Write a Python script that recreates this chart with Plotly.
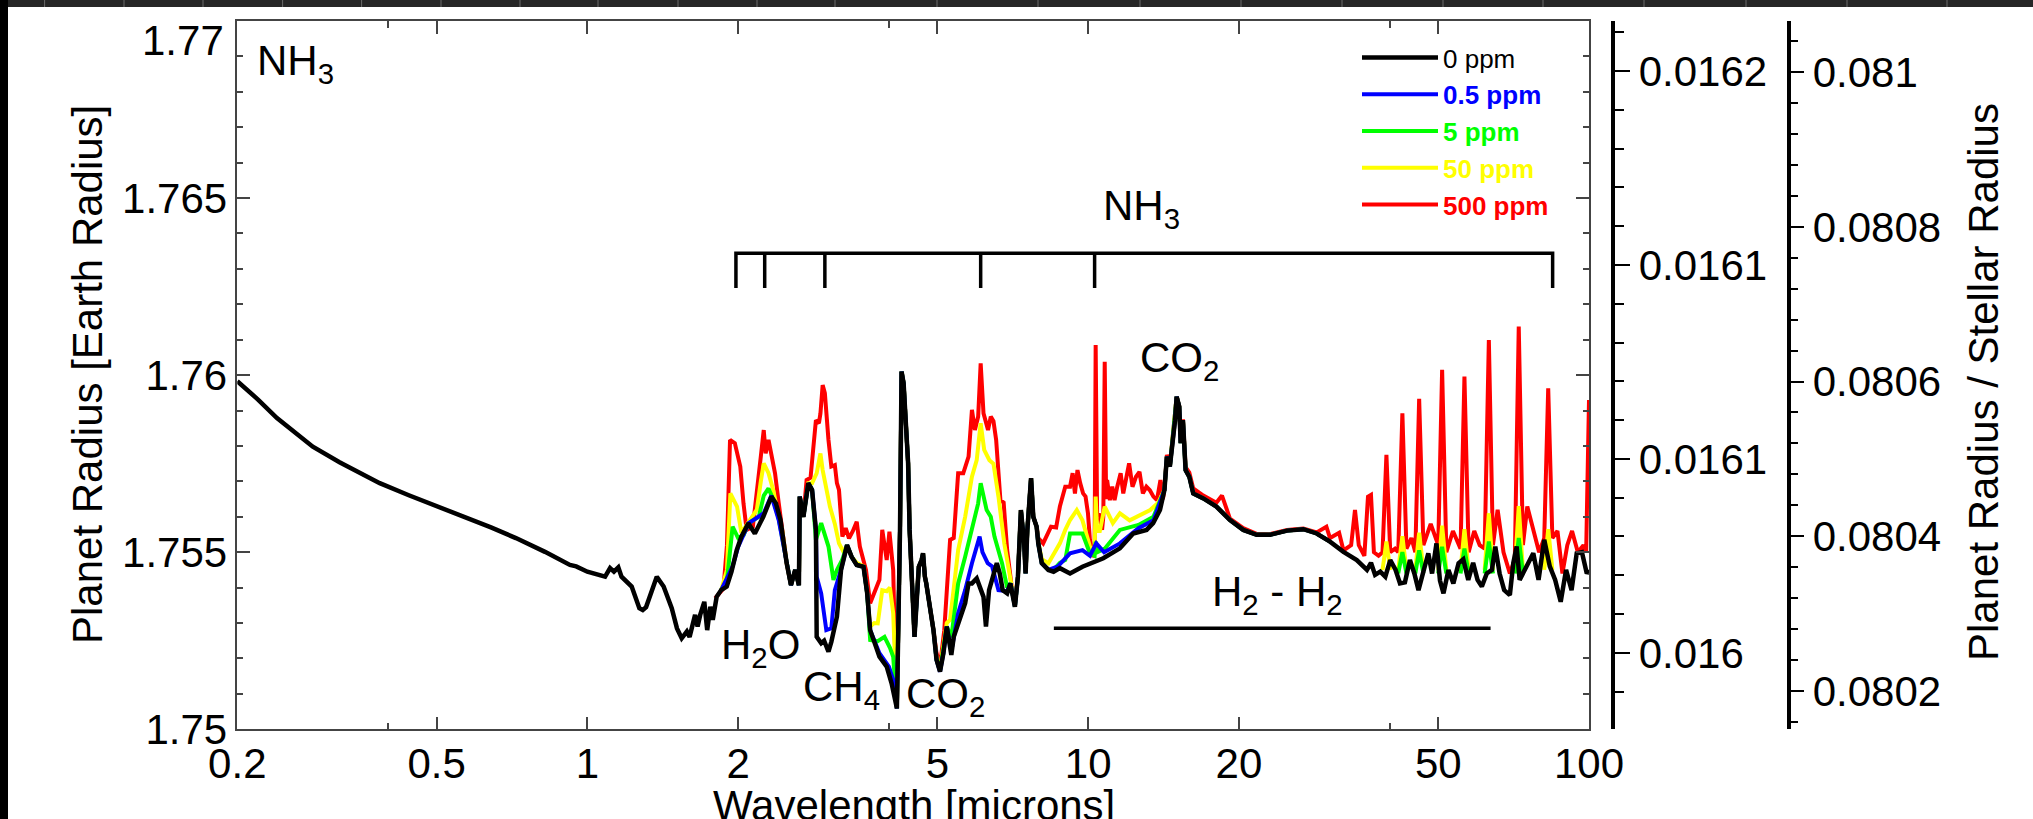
import math
import plotly.graph_objects as go

W, H = 2033, 819
FONT = "Liberation Sans, Arial, Helvetica, sans-serif"

# ---------------- data (wavelength in microns, radius in Earth radii) ----------------
wl_0ppm = [
    0.200, 0.220, 0.240, 0.260, 0.283, 0.320, 0.385, 0.440, 0.497, 0.560,
    0.642, 0.720, 0.789, 0.823, 0.923, 0.950,
    1.000, 1.085, 1.110, 1.130, 1.153, 1.170, 1.226, 1.270, 1.290, 1.310,
    1.376, 1.420, 1.474, 1.510, 1.543, 1.580, 1.600, 1.641, 1.660, 1.680,
    1.712, 1.735, 1.760, 1.780, 1.812, 1.850, 1.898, 1.940, 1.987, 2.030,
    2.096, 2.160, 2.245, 2.330, 2.380, 2.430, 2.500, 2.550, 2.600, 2.645,
    2.655, 2.700, 2.762, 2.810, 2.860, 2.870, 2.930, 2.970, 3.030, 3.070,
    3.150, 3.210, 3.300, 3.370, 3.450, 3.560, 3.620, 3.670, 3.740, 3.830,
    3.960, 4.050, 4.150, 4.210, 4.240, 4.280, 4.370, 4.400, 4.500, 4.530,
    4.590, 4.650, 4.680, 4.720, 4.750, 4.910, 4.980, 5.060, 5.140, 5.220,
    5.330, 5.390, 5.500, 5.680, 5.770, 5.860, 5.990, 6.100, 6.180, 6.250,
    6.340, 6.570, 6.660, 6.750, 6.890, 6.990, 7.140, 7.240, 7.340, 7.450,
    7.500, 7.560, 7.690, 7.770, 7.890, 7.950, 8.080, 8.330, 8.530, 8.780,
    9.200, 9.740, 10.72, 11.57, 12.30, 13.08, 13.48, 13.91, 14.20, 14.36,
    14.56, 14.91, 15.02, 15.20, 15.30, 15.46, 15.65, 15.92, 16.21, 16.98,
    18.03, 19.19, 20.40, 21.69, 23.07, 24.96, 26.89, 28.59, 30.40, 32.34,
    34.38, 36.03, 36.70, 37.40, 38.30, 39.20, 40.10, 41.10, 41.94, 42.90,
    43.90, 44.80, 45.66, 46.80, 47.77, 48.60, 49.60, 50.40, 51.22, 52.40,
    53.60, 54.90, 56.10, 57.40, 58.70, 59.90, 61.10, 62.50, 64.00, 65.00,
    66.30, 67.70, 69.50, 70.60, 71.70, 72.70, 74.90, 77.40, 79.30, 81.40,
    83.50, 85.60, 87.80, 90.00, 92.30, 94.50, 96.80, 99.00, 100.0,
]
r_0ppm = [
    1.75983, 1.75931, 1.75879, 1.75838, 1.75798, 1.75754, 1.75695, 1.75661, 1.75632, 1.75602,
    1.75570, 1.75540, 1.75514, 1.75501, 1.75464, 1.75460,
    1.75445, 1.75431, 1.75455, 1.75445, 1.75457, 1.75431, 1.75403, 1.75342, 1.75337, 1.75345,
    1.75431, 1.75403, 1.75342, 1.75285, 1.75257, 1.75276, 1.75261, 1.75323, 1.75290, 1.75323,
    1.75360, 1.75280, 1.75346, 1.75309, 1.75374, 1.75393, 1.75403, 1.75445, 1.75506, 1.75544,
    1.75582, 1.75553, 1.75600, 1.75657, 1.75638, 1.75591, 1.75469, 1.75407, 1.75450, 1.75407,
    1.75657, 1.75600, 1.75695, 1.75676, 1.75563, 1.75261, 1.75243, 1.75250, 1.75219, 1.75247,
    1.75318, 1.75450, 1.75520, 1.75487, 1.75464, 1.75459, 1.75384, 1.75280, 1.75247, 1.75205,
    1.75177, 1.75130, 1.75059, 1.75563, 1.76010, 1.75977, 1.75751, 1.75563, 1.75261, 1.75337,
    1.75459, 1.75478, 1.75497, 1.75431, 1.75412, 1.75280, 1.75196, 1.75163, 1.75215, 1.75290,
    1.75210, 1.75261, 1.75299, 1.75356, 1.75412, 1.75412, 1.75426, 1.75393, 1.75374, 1.75290,
    1.75393, 1.75469, 1.75440, 1.75393, 1.75384, 1.75412, 1.75346, 1.75431, 1.75619, 1.75525,
    1.75440, 1.75563, 1.75709, 1.75600, 1.75572, 1.75525, 1.75469, 1.75450, 1.75445, 1.75455,
    1.75440, 1.75459, 1.75483, 1.75511, 1.75553, 1.75563, 1.75582, 1.75619, 1.75676, 1.75770,
    1.75742, 1.75873, 1.75939, 1.75911, 1.75808, 1.75873, 1.75732, 1.75713, 1.75666, 1.75652,
    1.75629, 1.75591, 1.75563, 1.75549, 1.75549, 1.75561, 1.75565, 1.75553, 1.75530, 1.75501,
    1.75478, 1.75450, 1.75470, 1.75436, 1.75445, 1.75431, 1.75478, 1.75450, 1.75412, 1.75415,
    1.75478, 1.75440, 1.75393, 1.75450, 1.75497, 1.75440, 1.75525, 1.75420, 1.75384, 1.75450,
    1.75412, 1.75469, 1.75480, 1.75422, 1.75470, 1.75422, 1.75403, 1.75440, 1.75450, 1.75516,
    1.75440, 1.75393, 1.75379, 1.75469, 1.75516, 1.75422, 1.75460, 1.75497, 1.75422, 1.75535,
    1.75460, 1.75422, 1.75360, 1.75450, 1.75393, 1.75497, 1.75500, 1.75440, 1.75450,
]

wl_500ppm = [
    1.800, 1.870, 1.900, 1.927, 1.970, 2.020, 2.050, 2.080, 2.140, 2.180,
    2.220, 2.250, 2.270, 2.300, 2.330, 2.370, 2.410, 2.450, 2.500, 2.550,
    2.600, 2.645, 2.655, 2.700, 2.740, 2.790, 2.860, 2.900, 2.920, 2.950,
    2.980, 3.030, 3.070, 3.120, 3.150, 3.180, 3.230, 3.280, 3.330, 3.390,
    3.450, 3.500, 3.600, 3.670, 3.740, 3.830, 3.880, 3.960, 4.010, 4.080,
    4.120, 4.150, 4.210, 4.240, 4.280, 4.370, 4.400, 4.500, 4.530, 4.590,
    4.650, 4.680, 4.720, 4.750, 4.910, 4.980, 5.060, 5.160, 5.300, 5.390,
    5.500, 5.630, 5.770, 5.860, 5.940, 6.030, 6.100, 6.180, 6.220, 6.310,
    6.390, 6.470, 6.550, 6.680, 6.780, 6.890, 7.040, 7.140, 7.240, 7.340,
    7.450, 7.500, 7.560, 7.690, 7.770, 7.890, 7.950, 8.130, 8.430, 8.630,
    8.780, 9.000, 9.200, 9.310, 9.410, 9.520, 9.640, 9.770, 9.880, 9.990,
    10.08, 10.20, 10.30, 10.35, 10.42, 10.50, 10.66, 10.72, 10.79, 10.86,
    10.91, 11.05, 11.17, 11.29, 11.43, 11.61, 11.75, 11.88, 12.07, 12.26,
    12.46, 12.66, 12.86, 13.07, 13.28, 13.50, 13.72, 13.94, 14.10, 14.20,
    14.36, 14.56, 14.91, 15.02, 15.20, 15.30, 15.46, 15.65, 15.92, 16.21,
    16.98, 18.03, 18.50, 19.19, 20.40, 21.69, 23.07, 24.96, 26.89, 28.59,
    29.90, 30.40, 31.70, 32.34, 33.50, 34.10, 34.70, 35.60, 36.20, 36.70,
    37.20, 38.00, 38.70, 39.40, 40.10, 41.00, 41.60, 42.40, 43.20, 44.20,
    45.00, 45.80, 46.70, 48.30, 50.00, 50.90, 51.90, 53.50, 55.40, 56.40,
    57.50, 59.00, 60.50, 61.90, 63.10, 64.30, 65.70, 67.50, 69.50, 71.10,
    72.40, 73.80, 75.30, 77.50, 79.50, 81.40, 82.90, 84.50, 86.50, 88.50,
    90.50, 92.50, 95.00, 97.50, 98.70, 100.0,
]
r_500ppm = [
    1.75370, 1.75398, 1.75520, 1.75817, 1.75808, 1.75742, 1.75638, 1.75563, 1.75572, 1.75685,
    1.75770, 1.75845, 1.75779, 1.75817, 1.75770, 1.75723, 1.75640, 1.75560, 1.75469, 1.75407,
    1.75450, 1.75407, 1.75657, 1.75600, 1.75704, 1.75710, 1.75873, 1.75864, 1.75892, 1.75972,
    1.75949, 1.75817, 1.75742, 1.75746, 1.75695, 1.75676, 1.75544, 1.75568, 1.75539, 1.75560,
    1.75586, 1.75516, 1.75450, 1.75356, 1.75384, 1.75422, 1.75563, 1.75478, 1.75558, 1.75450,
    1.75200, 1.75059, 1.75563, 1.76010, 1.75977, 1.75751, 1.75563, 1.75261, 1.75337, 1.75459,
    1.75478, 1.75497, 1.75431, 1.75412, 1.75280, 1.75215, 1.75180, 1.75280, 1.75535, 1.75540,
    1.75723, 1.75723, 1.75770, 1.75902, 1.75845, 1.75883, 1.76033, 1.75892, 1.75878, 1.75845,
    1.75883, 1.75870, 1.75817, 1.75647, 1.75640, 1.75506, 1.75400, 1.75360, 1.75431, 1.75619,
    1.75525, 1.75440, 1.75563, 1.75709, 1.75600, 1.75572, 1.75540, 1.75525, 1.75572, 1.75570,
    1.75629, 1.75685, 1.75685, 1.75723, 1.75666, 1.75732, 1.75695, 1.75666, 1.75657, 1.75610,
    1.75535, 1.75487, 1.75500, 1.76085, 1.75600, 1.75610, 1.75563, 1.75600, 1.76038, 1.75650,
    1.75704, 1.75647, 1.75685, 1.75647, 1.75685, 1.75723, 1.75666, 1.75704, 1.75751, 1.75685,
    1.75713, 1.75727, 1.75666, 1.75685, 1.75675, 1.75657, 1.75647, 1.75704, 1.75650, 1.75680,
    1.75775, 1.75745, 1.75875, 1.75940, 1.75912, 1.75810, 1.75875, 1.75740, 1.75725, 1.75680,
    1.75660, 1.75640, 1.75660, 1.75595, 1.75568, 1.75552, 1.75551, 1.75563, 1.75567, 1.75556,
    1.75572, 1.75540, 1.75555, 1.75505, 1.75520, 1.75619, 1.75520, 1.75490, 1.75657, 1.75662,
    1.75500, 1.75490, 1.75500, 1.75775, 1.75500, 1.75510, 1.75500, 1.75892, 1.75510, 1.75540,
    1.75500, 1.75933, 1.75520, 1.75580, 1.75520, 1.76015, 1.75500, 1.75560, 1.75510, 1.75996,
    1.75500, 1.75560, 1.75520, 1.75510, 1.76099, 1.75520, 1.75620, 1.75500, 1.75440, 1.75480,
    1.76137, 1.75520, 1.75629, 1.75560, 1.75500, 1.75540, 1.75963, 1.75540, 1.75560, 1.75440,
    1.75520, 1.75560, 1.75500, 1.75520, 1.75500, 1.75930,
]

# 50 ppm: continuous part up to 30 microns, then isolated line cores inside the red lines
wl_50ppm = [
    1.850, 1.900, 1.930, 1.990, 2.030, 2.100, 2.180, 2.220, 2.250, 2.300,
    2.350, 2.410, 2.450, 2.500, 2.550, 2.600, 2.645, 2.655, 2.700, 2.762,
    2.810, 2.870, 2.920, 2.950, 3.000, 3.050, 3.120, 3.180, 3.250, 3.300,
    3.370, 3.450, 3.560, 3.620, 3.670, 3.740, 3.800, 3.880, 3.960, 4.020,
    4.080, 4.120, 4.150, 4.210, 4.240, 4.280, 4.370, 4.400, 4.500, 4.530,
    4.590, 4.650, 4.680, 4.720, 4.750, 4.910, 4.980, 5.060, 5.140, 5.220,
    5.300, 5.500, 5.680, 5.860, 5.990, 6.100, 6.200, 6.350, 6.470, 6.620,
    6.800, 7.000, 7.140, 7.240, 7.340, 7.450, 7.500, 7.560, 7.690, 7.770,
    7.890, 7.950, 8.080, 8.330, 8.780, 9.000, 9.200, 9.490, 9.740, 10.08,
    10.30, 10.35, 10.42, 10.55, 10.79, 11.20, 11.57, 12.10, 12.90, 13.30,
    13.80, 14.20, 14.36, 14.56, 14.91, 15.02, 15.20, 15.30, 15.46, 15.65,
    15.92, 16.21, 16.98, 18.03, 19.19, 20.40, 21.69, 23.07, 24.96, 26.89,
    28.59, 30.40,
    None, 38.70, 39.40, 40.10, None, 41.60, 42.40, 43.20, None, 45.00, 45.80, 46.70,
    None, 50.00, 50.90, 51.90, None, 55.40, 56.40, 57.50, None, 61.90, 63.10, 64.30,
    None, 71.10, 72.40, 73.80, None, 81.40, 82.90, 84.50,
]
r_50ppm = [
    1.75393, 1.75450, 1.75666, 1.75629, 1.75555, 1.75585, 1.75620, 1.75700, 1.75751, 1.75723,
    1.75676, 1.75600, 1.75560, 1.75469, 1.75407, 1.75450, 1.75407, 1.75657, 1.75600, 1.75695,
    1.75695, 1.75723, 1.75779, 1.75732, 1.75676, 1.75629, 1.75580, 1.75525, 1.75500, 1.75520,
    1.75487, 1.75470, 1.75460, 1.75384, 1.75290, 1.75300, 1.75299, 1.75393, 1.75390, 1.75400,
    1.75328, 1.75150, 1.75059, 1.75563, 1.76010, 1.75977, 1.75751, 1.75563, 1.75261, 1.75337,
    1.75459, 1.75478, 1.75497, 1.75431, 1.75412, 1.75280, 1.75200, 1.75170, 1.75230, 1.75300,
    1.75309, 1.75506, 1.75600, 1.75713, 1.75760, 1.75864, 1.75789, 1.75760, 1.75750, 1.75657,
    1.75525, 1.75420, 1.75350, 1.75431, 1.75619, 1.75525, 1.75440, 1.75563, 1.75709, 1.75600,
    1.75572, 1.75530, 1.75480, 1.75469, 1.75525, 1.75563, 1.75591, 1.75619, 1.75590, 1.75516,
    1.75500, 1.75657, 1.75560, 1.75560, 1.75629, 1.75582, 1.75610, 1.75590, 1.75610, 1.75619,
    1.75640, 1.75676, 1.75770, 1.75742, 1.75873, 1.75939, 1.75911, 1.75808, 1.75873, 1.75732,
    1.75713, 1.75666, 1.75652, 1.75629, 1.75591, 1.75563, 1.75549, 1.75549, 1.75561, 1.75565,
    1.75553, 1.75530,
    None, 1.75450, 1.75530, 1.75450, None, 1.75450, 1.75545, 1.75450, None, 1.75450, 1.75555, 1.75450,
    None, 1.75450, 1.75575, 1.75450, None, 1.75450, 1.75565, 1.75450, None, 1.75450, 1.75610, 1.75450,
    None, 1.75450, 1.75630, 1.75450, None, 1.75450, 1.75565, 1.75450,
]

wl_5ppm = [
    1.850, 1.900, 1.950, 2.000, 2.050, 2.100, 2.200, 2.250, 2.300, 2.350,
    2.410, 2.450, 2.500, 2.550, 2.600, 2.645, 2.655, 2.700, 2.762, 2.810,
    2.860, 2.930, 3.030, 3.100, 3.150, 3.230, 3.300, 3.370, 3.450, 3.560,
    3.620, 3.670, 3.800, 3.920, 4.020, 4.080, 4.150, 4.210, 4.240, 4.280,
    4.370, 4.400, 4.500, 4.530, 4.590, 4.650, 4.680, 4.720, 4.750, 4.910,
    4.980, 5.060, 5.140, 5.220, 5.330, 5.500, 5.680, 5.860, 6.030, 6.100,
    6.270, 6.390, 6.500, 6.730, 6.890, 7.000, 7.140, 7.240, 7.340, 7.450,
    7.500, 7.560, 7.690, 7.770, 7.890, 7.950, 8.080, 8.330, 8.530, 8.780,
    9.000, 9.200, 9.740, 10.08, 10.30, 10.35, 10.42, 10.79, 11.57, 12.60,
    13.50, 14.20, 14.36, 14.56, 14.91, 15.02, 15.20, 15.30, 15.46, 15.65,
    15.92, 16.21, 16.98, 18.03, 19.19, 20.40, 21.69, 23.07, 24.96, 26.89,
    28.59, 30.40,
    None, 41.60, 42.40, 43.20, None, 45.00, 45.80, 46.70, None, 50.00, 50.90, 51.90,
    None, 55.40, 56.40, 57.50, None, 61.90, 63.10, 64.30, None, 71.10, 72.40, 73.80,
]
r_5ppm = [
    1.75393, 1.75420, 1.75572, 1.75540, 1.75548, 1.75582, 1.75600, 1.75660, 1.75680, 1.75650,
    1.75595, 1.75540, 1.75469, 1.75407, 1.75450, 1.75407, 1.75657, 1.75600, 1.75695, 1.75676,
    1.75535, 1.75582, 1.75516, 1.75422, 1.75450, 1.75480, 1.75520, 1.75487, 1.75464, 1.75459,
    1.75384, 1.75252, 1.75249, 1.75261, 1.75230, 1.75205, 1.75059, 1.75563, 1.76010, 1.75977,
    1.75751, 1.75563, 1.75261, 1.75337, 1.75459, 1.75478, 1.75497, 1.75431, 1.75412, 1.75280,
    1.75196, 1.75165, 1.75220, 1.75290, 1.75260, 1.75412, 1.75487, 1.75563, 1.75638, 1.75695,
    1.75619, 1.75600, 1.75544, 1.75469, 1.75400, 1.75412, 1.75346, 1.75431, 1.75619, 1.75525,
    1.75440, 1.75563, 1.75709, 1.75600, 1.75572, 1.75525, 1.75469, 1.75450, 1.75450, 1.75470,
    1.75478, 1.75553, 1.75553, 1.75497, 1.75490, 1.75530, 1.75500, 1.75510, 1.75563, 1.75577,
    1.75600, 1.75676, 1.75770, 1.75742, 1.75873, 1.75939, 1.75911, 1.75808, 1.75873, 1.75732,
    1.75713, 1.75666, 1.75652, 1.75629, 1.75591, 1.75563, 1.75549, 1.75549, 1.75561, 1.75565,
    1.75553, 1.75530,
    None, 1.75440, 1.75500, 1.75440, None, 1.75440, 1.75505, 1.75440, None, 1.75440, 1.75515, 1.75440,
    None, 1.75440, 1.75510, 1.75440, None, 1.75440, 1.75530, 1.75440, None, 1.75440, 1.75540, 1.75440,
]

wl_05ppm = [
    1.850, 1.950, 2.000, 2.100, 2.250, 2.330, 2.410, 2.500, 2.550, 2.600,
    2.645, 2.655, 2.700, 2.762, 2.810, 2.860, 2.870, 2.930, 3.000, 3.070,
    3.120, 3.210, 3.300, 3.370, 3.450, 3.560, 3.620, 3.670, 3.740, 3.830,
    4.000, 4.080, 4.150, 4.210, 4.240, 4.280, 4.370, 4.400, 4.500, 4.530,
    4.590, 4.650, 4.680, 4.720, 4.750, 4.910, 4.980, 5.060, 5.140, 5.220,
    5.330, 5.500, 5.680, 5.860, 6.070, 6.150, 6.300, 6.430, 6.620, 6.890,
    7.000, 7.140, 7.240, 7.340, 7.450, 7.500, 7.560, 7.690, 7.770, 7.890,
    7.950, 8.080, 8.330, 8.700, 9.200, 9.740, 10.08, 10.38, 10.76, 11.57,
    12.60, 13.50, 14.20, 14.36, 14.56, 14.91, 15.02, 15.20, 15.30, 15.46,
    15.65, 15.92, 16.21, 16.98, 18.03, 19.19, 20.40, 21.69, 23.07, 24.96,
    26.89, 28.59, 30.40,
]
r_05ppm = [
    1.75393, 1.75460, 1.75515, 1.75582, 1.75610, 1.75660, 1.75591, 1.75469, 1.75407, 1.75450,
    1.75407, 1.75657, 1.75600, 1.75695, 1.75676, 1.75563, 1.75431, 1.75384, 1.75280, 1.75285,
    1.75393, 1.75450, 1.75520, 1.75487, 1.75464, 1.75459, 1.75384, 1.75280, 1.75250, 1.75215,
    1.75177, 1.75140, 1.75059, 1.75563, 1.76010, 1.75977, 1.75751, 1.75563, 1.75261, 1.75337,
    1.75459, 1.75478, 1.75497, 1.75431, 1.75412, 1.75280, 1.75196, 1.75163, 1.75215, 1.75290,
    1.75220, 1.75328, 1.75393, 1.75469, 1.75544, 1.75500, 1.75469, 1.75460, 1.75393, 1.75390,
    1.75412, 1.75346, 1.75431, 1.75619, 1.75525, 1.75440, 1.75563, 1.75709, 1.75600, 1.75572,
    1.75525, 1.75469, 1.75450, 1.75460, 1.75497, 1.75506, 1.75490, 1.75525, 1.75500, 1.75525,
    1.75568, 1.75590, 1.75676, 1.75770, 1.75742, 1.75873, 1.75939, 1.75911, 1.75808, 1.75873,
    1.75732, 1.75713, 1.75666, 1.75652, 1.75629, 1.75591, 1.75563, 1.75549, 1.75549, 1.75561,
    1.75565, 1.75553, 1.75530,
]

series_names = ["500 ppm", "50 ppm", "5 ppm", "0.5 ppm", "0 ppm"]
series_colors = ["#ff0000", "#ffff00", "#00ff00", "#0000ff", "#000000"]

# band markers
nh3_band_wl = [1.98, 2.26, 2.98, 6.1, 10.3, 84.6]
nh3_bracket_level = 1.76344
nh3_tick_bottom = 1.76246
h2h2_range = [8.54, 63.6]
h2h2_level = 1.75285

# axes
x_range = [0.2, 100]
x_tick_vals = [0.2, 0.5, 1, 2, 5, 10, 20, 50, 100]
x_tick_text = ["0.2", "0.5", "1", "2", "5", "10", "20", "50", "100"]
x_minor_vals = [0.4, 4, 40]
y_range = [1.75, 1.77]
y_tick_vals = [1.75, 1.755, 1.76, 1.765]
y_tick_text = ["1.75", "1.755", "1.76", "1.765"]
stellar_radius_1 = 109.51   # Earth radii, inner right axis
stellar_radius_2 = 21.834   # Earth radii, outer right axis
ratio1_tick_vals = [0.016, 0.01605, 0.0161, 0.01615]
ratio1_tick_text = ["0.016", "0.0161", "0.0161", "0.0162"]
ratio2_tick_vals = [0.0802, 0.0804, 0.0806, 0.0808, 0.081]
ratio2_tick_text = ["0.0802", "0.0804", "0.0806", "0.0808", "0.081"]

# ---------------- layout helpers (pixel -> paper) ----------------
def px(x):
    return x / W


def py(y):
    return 1 - y / H


X0, X1 = 237.3, 1589.0
Y0, Y1 = 21.0, 729.3

fig = go.Figure()

all_wl = [wl_500ppm, wl_50ppm, wl_5ppm, wl_05ppm, wl_0ppm]
all_r = [r_500ppm, r_50ppm, r_5ppm, r_05ppm, r_0ppm]
for name, color, wl, r in zip(series_names, series_colors, all_wl, all_r):
    if name == "0 ppm":
        label = "<span style='color:#000000'>0 ppm</span>"
        width = 4.5
    else:
        label = f"<span style='color:{color}'><b>{name}</b></span>"
        width = 4
    fig.add_trace(go.Scatter(x=wl, y=r, mode="lines", name=label,
                             line=dict(color=color, width=width),
                             connectgaps=False, hoverinfo="skip"))

# NH3 bracket
bx = [nh3_band_wl[0], nh3_band_wl[0], nh3_band_wl[-1], nh3_band_wl[-1]]
by = [nh3_tick_bottom, nh3_bracket_level, nh3_bracket_level, nh3_tick_bottom]
for w in nh3_band_wl[1:-1]:
    bx += [None, w, w]
    by += [None, nh3_bracket_level, nh3_tick_bottom]
fig.add_trace(go.Scatter(x=bx, y=by, mode="lines", line=dict(color="black", width=3.5),
                         showlegend=False, hoverinfo="skip"))
# H2-H2 bar
fig.add_trace(go.Scatter(x=h2h2_range, y=[h2h2_level, h2h2_level], mode="lines",
                         line=dict(color="black", width=3.5), showlegend=False, hoverinfo="skip"))

# invisible traces tying the two ratio axes to the data
fig.add_trace(go.Scatter(x=wl_0ppm, y=[v / stellar_radius_1 for v in r_0ppm], yaxis="y2",
                         mode="lines", opacity=0, showlegend=False, hoverinfo="skip"))
fig.add_trace(go.Scatter(x=wl_0ppm, y=[v / stellar_radius_2 for v in r_0ppm], yaxis="y3",
                         mode="lines", opacity=0, showlegend=False, hoverinfo="skip"))

tickfont = dict(family=FONT, size=42, color="black")
frame = "#444444"

fig.update_layout(
    width=W, height=H, margin=dict(l=0, r=0, t=0, b=0),
    template="none",
    paper_bgcolor="white", plot_bgcolor="white",
    font=dict(family=FONT, color="black"),
    showlegend=True,
    legend=dict(x=px(1357), y=py(34), xanchor="left", yanchor="top",
                bgcolor="rgba(0,0,0,0)", borderwidth=0, traceorder="reversed",
                itemwidth=76, font=dict(family=FONT, size=26)),
    xaxis=dict(type="log", range=[math.log10(x_range[0]), math.log10(x_range[1])],
               domain=[px(X0), px(X1)], anchor="y",
               tickvals=x_tick_vals, ticktext=x_tick_text, tickfont=tickfont,
               ticklabelstandoff=-3,
               ticks="inside", ticklen=13, tickwidth=1.5, tickcolor=frame,
               showline=True, linecolor=frame, linewidth=1.5, mirror="ticks",
               showgrid=False, zeroline=False,
               minor=dict(tickvals=x_minor_vals, ticks="inside", ticklen=7,
                          tickwidth=1.5, tickcolor=frame, showgrid=False)),
    yaxis=dict(range=y_range, domain=[py(Y1), py(Y0)], anchor="x",
               tickvals=y_tick_vals, ticktext=y_tick_text, tickfont=tickfont,
               ticks="inside", ticklen=13, tickwidth=1.5, tickcolor=frame,
               showline=True, linecolor=frame, linewidth=1.5, mirror="ticks",
               showgrid=False, zeroline=False,
               minor=dict(dtick=0.001, tick0=1.75, ticks="inside", ticklen=6,
                          tickwidth=1.5, tickcolor=frame, showgrid=False)),
    yaxis2=dict(overlaying="y", anchor="free", position=px(1613.3), side="right",
                range=[y_range[0] / stellar_radius_1, y_range[1] / stellar_radius_1],
                tickvals=ratio1_tick_vals, ticktext=ratio1_tick_text, tickfont=tickfont,
                ticks="outside", ticklen=15, tickwidth=1.5, tickcolor="black",
                showline=True, linecolor="black", linewidth=4,
                showgrid=False, zeroline=False,
                minor=dict(dtick=0.00001, tick0=0.016, ticks="outside", ticklen=9,
                           tickwidth=1.5, tickcolor="black", showgrid=False)),
    yaxis3=dict(overlaying="y", anchor="free", position=px(1789.3), side="right",
                range=[y_range[0] / stellar_radius_2, y_range[1] / stellar_radius_2],
                tickvals=ratio2_tick_vals, ticktext=ratio2_tick_text, tickfont=tickfont,
                ticks="outside", ticklen=13, tickwidth=1.5, tickcolor="black",
                showline=True, linecolor="black", linewidth=4,
                showgrid=False, zeroline=False,
                minor=dict(dtick=0.00004, tick0=0.0802, ticks="outside", ticklen=7,
                           tickwidth=1.5, tickcolor="black", showgrid=False)),
)

big = dict(family=FONT, size=42, color="black")
ann = [
    dict(text="1.77", x=px(226), y=py(40), xanchor="right", yanchor="middle"),
    dict(text="NH<sub>3</sub>", x=px(255), y=py(64), xanchor="left", yanchor="middle"),
    dict(text="NH<sub>3</sub>", x=px(1101), y=py(209), xanchor="left", yanchor="middle"),
    dict(text="CO<sub>2</sub>", x=px(1138), y=py(360), xanchor="left", yanchor="middle"),
    dict(text="H<sub>2</sub> - H<sub>2</sub>", x=px(1210), y=py(594), xanchor="left", yanchor="middle"),
    dict(text="H<sub>2</sub>O", x=px(719), y=py(647), xanchor="left", yanchor="middle"),
    dict(text="CH<sub>4</sub>", x=px(801), y=py(689), xanchor="left", yanchor="middle"),
    dict(text="CO<sub>2</sub>", x=px(904), y=py(696), xanchor="left", yanchor="middle"),
    dict(text="Wavelength [microns]", x=px(914), y=py(805), xanchor="center", yanchor="middle"),
    dict(text="Planet Radius [Earth Radius]", x=px(88), y=py(375), xanchor="center",
         yanchor="middle", textangle=-90),
    dict(text="Planet Radius / Stellar Radius", x=px(1983), y=py(382), xanchor="center",
         yanchor="middle", textangle=-90),
]
for a in ann:
    a.update(xref="paper", yref="paper", showarrow=False, font=big)
fig.update_layout(annotations=ann)

# window chrome: dark strip on top with ruler ticks, black strip at left
ruler_px = [44.6, 124, 203, 282.6, 361.6, 441, 520, 598, 678, 757, 835,
            937, 1038, 1140, 1241, 1342, 1443, 1543, 1644, 1746, 1847, 1947]
shapes = [
    dict(type="rect", xref="paper", yref="paper", x0=0, x1=1, y0=py(7), y1=1,
         fillcolor="#262626", line=dict(width=0), layer="above"),
    dict(type="rect", xref="paper", yref="paper", x0=0, x1=px(8), y0=0, y1=1,
         fillcolor="#000000", line=dict(width=0), layer="above"),
]
for t in ruler_px:
    shapes.append(dict(type="line", xref="paper", yref="paper", x0=px(t), x1=px(t),
                       y0=py(7), y1=1, line=dict(color="#6a6a6a", width=1), layer="above"))
fig.update_layout(shapes=shapes)

fig.write_html("out.html")
